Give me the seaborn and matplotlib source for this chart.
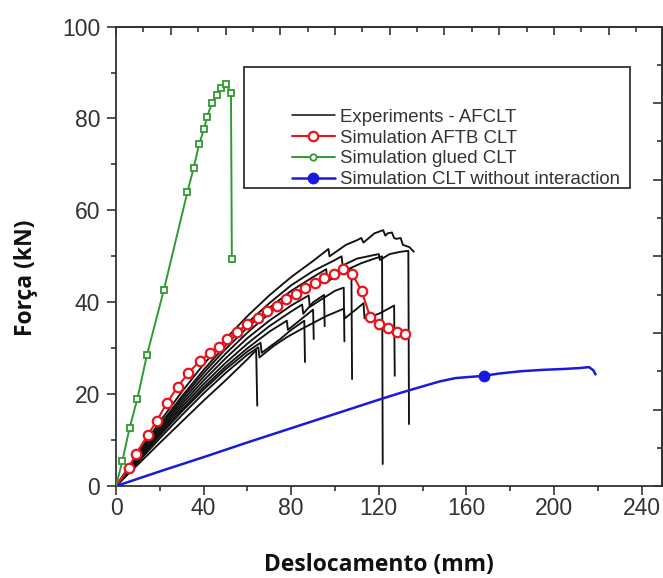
import numpy as np
import pandas as pd
import matplotlib
matplotlib.use('Agg')
import matplotlib.pyplot as plt
import seaborn as sns
from matplotlib.lines import Line2D
from matplotlib.patches import Rectangle
from matplotlib.ticker import MultipleLocator

# Experiments - AFCLT (one list pair per specimen)
exp1_x = [0, 10, 20, 30, 40, 50, 60, 64, 64.5]
exp1_y = [0, 4.7, 9.4, 14.0, 18.6, 23.0, 27.6, 29.6, 17.5]
exp2_x = [0, 10, 20, 30, 40, 50, 60, 65, 65.5, 72, 78, 84, 90, 96, 100, 104, 104.5, 110, 113, 113.5, 120, 124, 127, 127.3]
exp2_y = [0, 5.2, 10.4, 15.4, 20.2, 24.6, 28.6, 30.2, 28, 30.5, 32.4, 34, 35.5, 37, 37.8, 38.6, 36.5, 38.6, 39.8, 36.5, 37.5, 38.5, 39.3, 24]
exp3_x = [0, 10, 20, 30, 40, 50, 60, 66, 66.5, 75, 80, 86, 86.3]
exp3_y = [0, 5.5, 11, 16.2, 21, 25.4, 29.3, 31.2, 29, 32, 34, 36, 27]
exp4_x = [0, 10, 20, 30, 40, 50, 60, 70, 78, 78.5, 85, 90, 90.3]
exp4_y = [0, 5.8, 11.4, 16.6, 21.5, 26, 30, 33.6, 36, 34, 36.5, 38.4, 32]
exp5_x = [0, 10, 20, 30, 40, 50, 60, 70, 80, 85, 85.5, 90, 95, 95.3]
exp5_y = [0, 6, 11.8, 17.2, 22.2, 26.8, 31, 34.8, 38, 39.5, 37.5, 40, 41.6, 34.8]
exp6_x = [0, 10, 20, 30, 40, 50, 60, 70, 80, 88, 88.5, 95, 100, 104, 104.3]
exp6_y = [0, 6.2, 12.2, 17.8, 23, 27.8, 32.2, 36, 39.3, 41.5, 39, 41, 42.5, 43.2, 31.5]
exp7_x = [0, 10, 20, 30, 40, 50, 60, 70, 80, 90, 95, 100, 105, 107.5, 107.8]
exp7_y = [0, 6.4, 12.6, 18.4, 23.8, 28.8, 33.4, 37.6, 41.2, 44, 45.3, 46.2, 47, 47.2, 23.3]
exp8_x = [0, 10, 20, 30, 40, 50, 60, 70, 80, 90, 96, 96.5, 105, 112, 118, 121.5, 121.8]
exp8_y = [0, 6.6, 13, 19, 24.6, 29.8, 34.5, 38.8, 42.5, 45.5, 47.2, 44.5, 47, 48.5, 49.5, 50, 4.8]
exp9_x = [0, 10, 20, 30, 40, 50, 60, 70, 80, 90, 100, 103, 103.5, 110, 115, 120, 120.5, 125, 130, 133.5, 133.8]
exp9_y = [0, 6.8, 13.3, 19.5, 25.3, 30.6, 35.5, 39.8, 43.7, 46.8, 49.2, 50, 48, 49.5, 50, 50.5, 49.2, 50.5, 51, 51.2, 13.5]
exp10_x = [0, 10, 20, 30, 40, 50, 60, 70, 80, 90, 97, 97.5, 105, 110, 112, 113, 118, 122, 123, 124, 126, 127, 128, 130, 131, 134, 136]
exp10_y = [0, 7.2, 14, 20.5, 26.5, 32, 37, 41.5, 45.5, 49, 51.6, 50, 52.5, 53.5, 54, 53, 55, 55.7, 54.5, 55, 55.2, 54, 53.8, 54, 52.5, 52, 51]

# Simulation AFTB CLT
aftb_x = [0, 5.8, 9.1, 14.5, 18.6, 23.1, 28.1, 33, 38.4, 42.9, 46.9, 50.8, 55.2, 60, 64.7, 69.1,
          73.4, 77.6, 82, 86.3, 90.9, 95.2, 99.4, 103.7, 107.9, 112.2, 116, 120.3, 124.1, 128.4, 132.2]
aftb_y = [0, 3.9, 7.0, 11.1, 14.2, 18.0, 21.6, 24.6, 27.3, 28.9, 30.3, 32.1, 33.5, 35.2, 36.6, 38,
          39.3, 40.8, 41.9, 43.2, 44.1, 45.3, 46.2, 47.2, 46.2, 42.4, 36.9, 35.3, 34.5, 33.5, 33.1]

# Simulation glued CLT
glued_x = [0, 2.9, 6.2, 9.7, 14.1, 21.8, 32.6, 35.5, 38, 40.2, 41.5, 43.8, 46.1, 48, 50.2, 52.5, 52.9]
glued_y = [0, 5.5, 12.7, 18.9, 28.5, 42.6, 64, 69.3, 74.5, 77.7, 80.3, 83.3, 85.2, 86.7, 87.5, 85.6, 49.4]

# Simulation CLT without interaction
noint_x = [0, 20, 40, 60, 80, 100, 120, 130, 140, 148, 155, 160, 168, 175, 185, 195, 205, 212, 216, 218, 219]
noint_y = [0, 3.2, 6.3, 9.5, 12.6, 15.7, 18.8, 20.3, 21.7, 22.8, 23.5, 23.7, 24.0, 24.5, 25.0, 25.3, 25.5, 25.7, 25.9, 25.2, 24.3]
noint_mark = 12  # index of the single marker

labels = ['Experiments - AFCLT', 'Simulation AFTB CLT', 'Simulation glued CLT',
          'Simulation CLT without interaction']

RED = '#e8141c'
GREEN = '#2f9a32'
BLUE = '#1a1adc'

exp_pairs = [(exp1_x, exp1_y), (exp2_x, exp2_y), (exp3_x, exp3_y), (exp4_x, exp4_y), (exp5_x, exp5_y),
             (exp6_x, exp6_y), (exp7_x, exp7_y), (exp8_x, exp8_y), (exp9_x, exp9_y), (exp10_x, exp10_y)]
exp_df = pd.concat([pd.DataFrame({'curve': i, 'x': xs, 'y': ys}) for i, (xs, ys) in enumerate(exp_pairs)],
                   ignore_index=True)

sns.set_theme(style='ticks')
plt.rcParams['font.family'] = ['Liberation Sans', 'DejaVu Sans']

fig = plt.figure(figsize=(6.63, 5.78), dpi=100)
ax = fig.add_axes([0.175, 0.159, 0.824, 0.795])

sns.lineplot(data=exp_df, x='x', y='y', units='curve', estimator=None, sort=False,
             color='#111111', lw=1.35, legend=False, ax=ax, zorder=2)
sns.lineplot(x=aftb_x, y=aftb_y, sort=False, color=RED, lw=1.5, marker='o', ms=6.8,
             mfc='white', mec=RED, mew=1.6, markevery=slice(1, None), ax=ax, zorder=3)
sns.lineplot(x=noint_x, y=noint_y, sort=False, color=BLUE, lw=1.8, marker='o', ms=7.5,
             mfc=BLUE, mec=BLUE, mew=1, markevery=[noint_mark], ax=ax, zorder=3)
sns.lineplot(x=glued_x, y=glued_y, sort=False, color=GREEN, lw=1.4, marker='s', ms=4.6,
             mfc='white', mec=GREEN, mew=1.3, markevery=slice(1, None), ax=ax, zorder=4)

ax.set_xlim(0, 249.5)
ax.set_ylim(0, 100)
ax.xaxis.set_major_locator(MultipleLocator(40))
ax.xaxis.set_minor_locator(MultipleLocator(20))
ax.yaxis.set_major_locator(MultipleLocator(20))
ax.yaxis.set_minor_locator(MultipleLocator(10))
ax.tick_params(which='major', direction='out', length=6.5, width=1.2, labelsize=16.5,
               labelcolor='#333333', color='#333333')
ax.tick_params(which='minor', direction='out', length=3.5, width=1.2, color='#333333')
ax.tick_params(axis='x', which='major', pad=1)
ax.tick_params(axis='y', which='major', pad=5)
for s in ax.spines.values():
    s.set_linewidth(1.3)
    s.set_color('#333333')

# frame axes on top / right carry their own tick spacing
top = ax.secondary_xaxis('top')
top.set_xticks(np.arange(0, 250, 25))
top.xaxis.set_minor_locator(MultipleLocator(12.5))
top.tick_params(which='major', direction='in', length=6, width=1.2, labeltop=False, color='#333333')
top.tick_params(which='minor', direction='in', length=3.5, width=1.2, color='#333333')
top.spines['top'].set_linewidth(1.3)
top.spines['top'].set_color('#333333')
right = ax.secondary_yaxis('right')
right.set_yticks(np.arange(0, 101, 100 / 6))
right.yaxis.set_minor_locator(MultipleLocator(100 / 12))
right.tick_params(which='major', direction='in', length=6.5, width=1.2, labelright=False, color='#333333')
right.tick_params(which='minor', direction='in', length=3.5, width=1.2, color='#333333')
right.spines['right'].set_linewidth(1.3)
right.spines['right'].set_color('#333333')

ax.set_xlabel('Deslocamento (mm)', fontfamily='Open Sans', fontweight='bold', fontsize=16.5, color='#111111')
ax.set_ylabel('Força (kN)', fontfamily='Open Sans', fontweight='bold', fontsize=16.5, color='#111111')
ax.xaxis.set_label_coords(0.482, -0.146)
ax.yaxis.set_label_coords(-0.143, 0.453)

handles = [
    Line2D([], [], color='#111111', lw=1.1),
    Line2D([], [], color=RED, lw=1.5, marker='o', ms=6.8, mfc='white', mec=RED, mew=1.6),
    Line2D([], [], color=GREEN, lw=1.4, marker='o', ms=4.6, mfc='white', mec=GREEN, mew=1.3),
    Line2D([], [], color=BLUE, lw=1.8, marker='o', ms=7.5, mfc=BLUE, mec=BLUE),
]
ax.legend(handles, labels, loc='upper left', bbox_to_anchor=(0.322, 0.821), frameon=False,
          borderpad=0, borderaxespad=0, handlelength=2.3, handletextpad=0.27, labelspacing=0.2,
          prop={'family': 'Liberation Sans', 'size': 13.4}, labelcolor='#333333')
ax.add_patch(Rectangle((0.234, 0.649), 0.706, 0.263, transform=ax.transAxes, fill=False,
                       ec='#333333', lw=1.3, zorder=5))

fig.savefig('out.png', dpi=100)
